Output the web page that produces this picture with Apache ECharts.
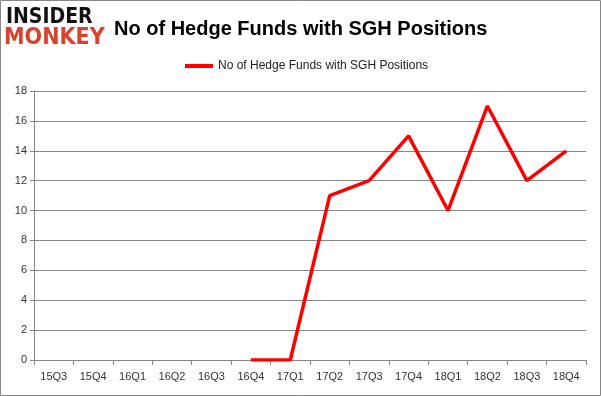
<!DOCTYPE html>
<html>
<head>
<meta charset="utf-8">
<script src="https://cdn.jsdelivr.net/npm/echarts@6/dist/echarts.min.js"></script>
<style>
  html, body { margin: 0; padding: 0; background: #fff; }
  #main { width: 601px; height: 396px; }
</style>
</head>
<body>
<div id="main"></div>
<script>
var quarters = ['15Q3', '15Q4', '16Q1', '16Q2', '16Q3', '16Q4', '17Q1', '17Q2', '17Q3', '17Q4', '18Q1', '18Q2', '18Q3', '18Q4'];
var hedgeFunds = [null, null, null, null, null, 0, 0, 11, 12, 15, 10, 17, 12, 14];
var seriesName = 'No of Hedge Funds with SGH Positions';
var titleText = 'No of Hedge Funds with SGH Positions';

var chart = echarts.init(document.getElementById('main'));

var option = {
	backgroundColor: '#fff',
	animation: false,
	title: {
		text: titleText,
		left: 109,
		top: 14,
		textStyle: {
			fontFamily: 'Liberation Sans',
			fontWeight: 'bold',
			fontSize: 20,
			color: '#000'
		}
	},
	legend: {
		data: [seriesName],
		left: 180,
		top: 55,
		icon: 'rect',
		itemWidth: 28,
		itemHeight: 4,
		itemGap: 4,
		textStyle: {
			fontFamily: 'Liberation Sans',
			fontSize: 12,
			color: '#222'
		}
	},
	grid: {
		left: 34,
		right: 15,
		top: 91,
		bottom: 36
	},
	xAxis: {
		type: 'category',
		data: quarters,
		boundaryGap: true,
		axisLine: { lineStyle: { color: '#868686', width: 1 } },
		axisTick: { show: true, length: 5, lineStyle: { color: '#868686' } },
		axisLabel: {
			margin: 11,
			fontFamily: 'Liberation Sans',
			fontSize: 11,
			color: '#333',
			interval: 0
		}
	},
	yAxis: {
		type: 'value',
		min: 0,
		max: 18,
		interval: 2,
		axisLine: { show: true, lineStyle: { color: '#868686', width: 1 } },
		axisTick: { show: true, length: 4, lineStyle: { color: '#868686' } },
		axisLabel: {
			margin: 7,
			fontFamily: 'Liberation Sans',
			fontSize: 11,
			color: '#333'
		},
		splitLine: { lineStyle: { color: '#868686', width: 1 } }
	},
	series: [{
		name: seriesName,
		type: 'line',
		data: hedgeFunds,
		showSymbol: false,
		symbol: 'none',
		connectNulls: false,
		lineStyle: { color: '#ff0000', width: 3.5 },
		itemStyle: { color: '#ff0000' }
	}],
	graphic: [
		{
			type: 'rect',
			shape: { x: 0.5, y: 0.5, width: 600, height: 395 },
			style: { fill: 'none', stroke: '#868686', lineWidth: 1 },
			silent: true
		},
		{
			type: 'text',
			left: 6,
			top: 7,
			style: {
				text: 'INSIDER',
				font: '900 21px "DejaVu Sans Condensed", "DejaVu Sans"',
				fill: '#111'
			}
		},
		{
			type: 'text',
			left: 4,
			top: 27,
			style: {
				text: 'MONKEY',
				font: '900 23px "DejaVu Sans Condensed", "DejaVu Sans"',
				fill: '#d9432d'
			}
		}
	]
};

chart.setOption(option);
</script>
</body>
</html>
